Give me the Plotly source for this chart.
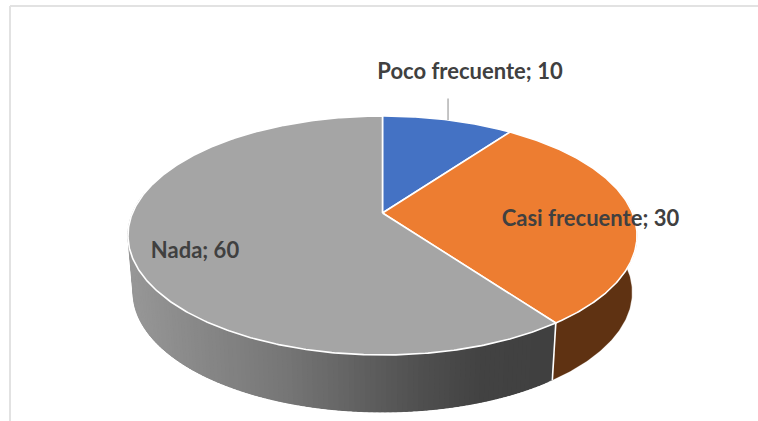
import numpy as np
import plotly.graph_objects as go

categories = ["Poco frecuente", "Casi frecuente", "Nada"]
values = [10, 30, 60]
face_colors = ["#4472c4", "#ed7d31", "#a5a5a5"]
side_colors = ["#2a4678", "#5f3212", None]
label_x = [470, 590.5, 195]
label_y = [73, 220.5, 252.5]

# projection of the tilted disc, in picture pixels
CX, CY = 382.5, 213.0
BX, AY, K = 250.0, 115.3, 0.188
LOWER_SX, LOWER_SY, LOWER_CY = 0.98, 1.0, 270.0
WIDTH, HEIGHT = 758, 421
shade_x = [130, 200, 280, 350, 420, 480, 555]
shade_g = [152, 136, 120, 100, 80, 67, 64]
# only this part of the rim faces the viewer
VISIBLE_FROM, VISIBLE_TO = np.radians(80), np.radians(280)


def project(theta, lower=False):
    X, Y = np.sin(theta), -np.cos(theta)
    d = 1 - K * Y
    if lower:
        return CX + LOWER_SX * BX * X / d, LOWER_CY + LOWER_SY * AY * Y / d
    return CX + BX * X / d, CY + AY * Y / d


def arc(a, b, step=np.radians(0.5)):
    n = max(2, int(abs(b - a) / step) + 1)
    return np.linspace(a, b, n)


total = sum(values)
edges = np.concatenate([[0], np.cumsum(values)]) / total * 2 * np.pi

fig = go.Figure()


def poly(x, y, fill, line=None, width=0.0):
    fig.add_trace(go.Scatter(x=list(x), y=list(y), mode="lines", fill="toself",
                             fillcolor=fill,
                             line=dict(color=line or fill, width=width),
                             hoverinfo="skip", showlegend=False))


# sides: each strip runs on a little and the next one paints over it
for i in range(len(values)):
    a, b = max(edges[i], VISIBLE_FROM), min(edges[i + 1], VISIBLE_TO)
    if a >= b:
        continue
    if side_colors[i]:
        t = arc(a, b)
        xu, yu = project(t)
        xl, yl = project(t[::-1], True)
        poly(np.r_[xu, xl], np.r_[yu, yl], side_colors[i], width=0.3)
    else:
        ts = arc(a, b, np.radians(1.0))
        for t0, t1 in zip(ts[:-1], ts[1:]):
            t = np.array([t0, t1])
            xu, yu = project(t)
            xl, yl = project(t[::-1], True)
            g = int(np.interp((xu.mean() + xl.mean()) / 2, shade_x, shade_g))
            t = arc(t0, min(t1 + np.radians(2.5), b), np.radians(0.5))
            xu, yu = project(t)
            xl, yl = project(t[::-1], True)
            poly(np.r_[xu, xl], np.r_[yu, yl], f"rgb({g},{g},{g})", width=0.3)

# white seam down the side where a visible slice boundary falls
seam = edges[2]
sx0, sy0 = project(seam)
sx1, sy1 = project(seam, True)
fig.add_trace(go.Scatter(x=[sx0, sx1], y=[sy0, sy1], mode="lines",
                         line=dict(color="white", width=1.6),
                         hoverinfo="skip", showlegend=False))

# top faces
for i in range(len(values)):
    t = arc(edges[i], edges[i + 1])
    x, y = project(t)
    poly(np.r_[CX, x, CX], np.r_[CY, y, CY], face_colors[i], "white", 1.6)

# leader line of the first label
mid = (edges[0] + edges[1]) / 2
lx, ly = project(mid)
fig.add_trace(go.Scatter(x=[lx, lx], y=[98.5, ly], mode="lines",
                         line=dict(color="#a6a6a6", width=1.3),
                         hoverinfo="skip", showlegend=False))

# data labels
fig.add_trace(go.Scatter(
    x=label_x, y=label_y, mode="text",
    text=[f"<b>{c}; {v}</b>" for c, v in zip(categories, values)],
    textposition="middle center",
    textfont=dict(family="Lato, Open Sans, sans-serif", size=22, color="#404040"),
    hoverinfo="skip", showlegend=False))

fig.update_layout(
    width=WIDTH, height=HEIGHT, autosize=False,
    margin=dict(l=0, r=0, t=0, b=0),
    paper_bgcolor="white", plot_bgcolor="white",
    xaxis=dict(range=[0, WIDTH], visible=False, fixedrange=True),
    yaxis=dict(range=[HEIGHT, 0], visible=False, fixedrange=True),
    shapes=[
        dict(type="line", xref="x", yref="y", x0=10, y0=6, x1=WIDTH, y1=6,
             line=dict(color="#e2e2e2", width=2)),
        dict(type="line", xref="x", yref="y", x0=10, y0=6, x1=10, y1=HEIGHT,
             line=dict(color="#e2e2e2", width=2)),
    ],
)
fig.write_html("out.html", config=dict(displayModeBar=False),
               post_script="document.documentElement.style.overflow='hidden';document.body.style.margin='0';")
